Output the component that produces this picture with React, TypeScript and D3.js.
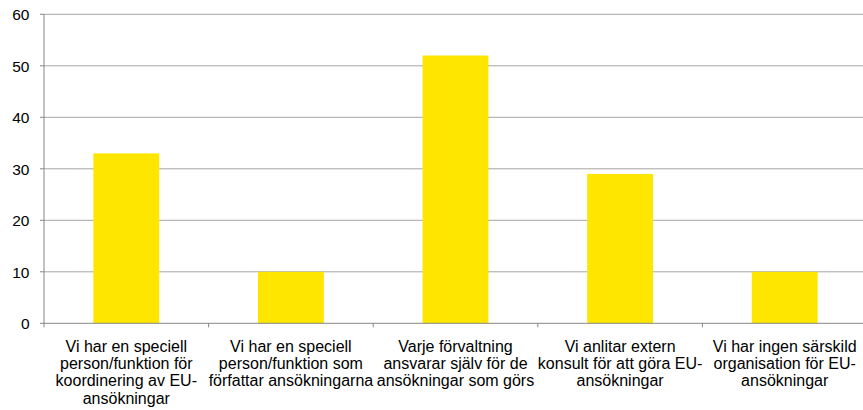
import React from "react";
import * as d3 from "d3";

const categories: string[][] = [
  ["Vi har en speciell", "person/funktion för", "koordinering av EU-", "ansökningar"],
  ["Vi har en speciell", "person/funktion som", "författar ansökningarna"],
  ["Varje förvaltning", "ansvarar själv för de", "ansökningar som görs"],
  ["Vi anlitar extern", "konsult för att göra EU-", "ansökningar"],
  ["Vi har ingen särskild", "organisation för EU-", "ansökningar"],
];
const values: number[] = [33, 10, 52, 29, 10];
const yTicks: number[] = [0, 10, 20, 30, 40, 50, 60];

export default function App() {
  const W = 863, H = 410;
  const left = 44, right = 867, top = 14.3, bottom = 323.3;
  const x = d3.scaleBand<number>().domain(d3.range(values.length)).range([left, right]).padding(0);
  const y = d3.scaleLinear().domain([0, 60]).range([bottom, top]);
  const bw = x.bandwidth() * 0.4;
  const font = "'Liberation Sans', Arial, sans-serif";
  return (
    <svg width={W} height={H} style={{ position: "absolute", left: 0, top: 0, background: "#fff" }} fontFamily={font}>
      {yTicks.map((t) => (
        <g key={t}>
          {t > 0 && <line x1={left} x2={right} y1={y(t)} y2={y(t)} stroke="#a6a6a6" strokeWidth={1} />}
          <line x1={left - 4} x2={left} y1={y(t)} y2={y(t)} stroke="#868686" strokeWidth={1} />
          <text x={29.5} y={y(t)} dy="0.38em" textAnchor="end" fontSize={15.5} fill="#000">{t}</text>
        </g>
      ))}
      {values.map((v, i) => (
        <rect key={i} x={(x(i) as number) + x.bandwidth() / 2 - bw / 2} y={y(v)} width={bw} height={y(0) - y(v)} fill="#ffe600" />
      ))}
      <line x1={left} x2={left} y1={top} y2={bottom} stroke="#868686" strokeWidth={1} />
      <line x1={left} x2={right} y1={bottom} y2={bottom} stroke="#868686" strokeWidth={1} />
      {d3.range(values.length + 1).map((i) => {
        const xx = left + i * x.step();
        return <line key={i} x1={xx} x2={xx} y1={bottom} y2={bottom + 4} stroke="#868686" strokeWidth={1} />;
      })}
      {categories.map((lines, i) => (
        <text key={i} textAnchor="middle" fontSize={16} fill="#000">
          {lines.map((l, j) => (
            <tspan key={j} x={(x(i) as number) + x.bandwidth() / 2} y={352 + j * 17.2}>{l}</tspan>
          ))}
        </text>
      ))}
    </svg>
  );
}
